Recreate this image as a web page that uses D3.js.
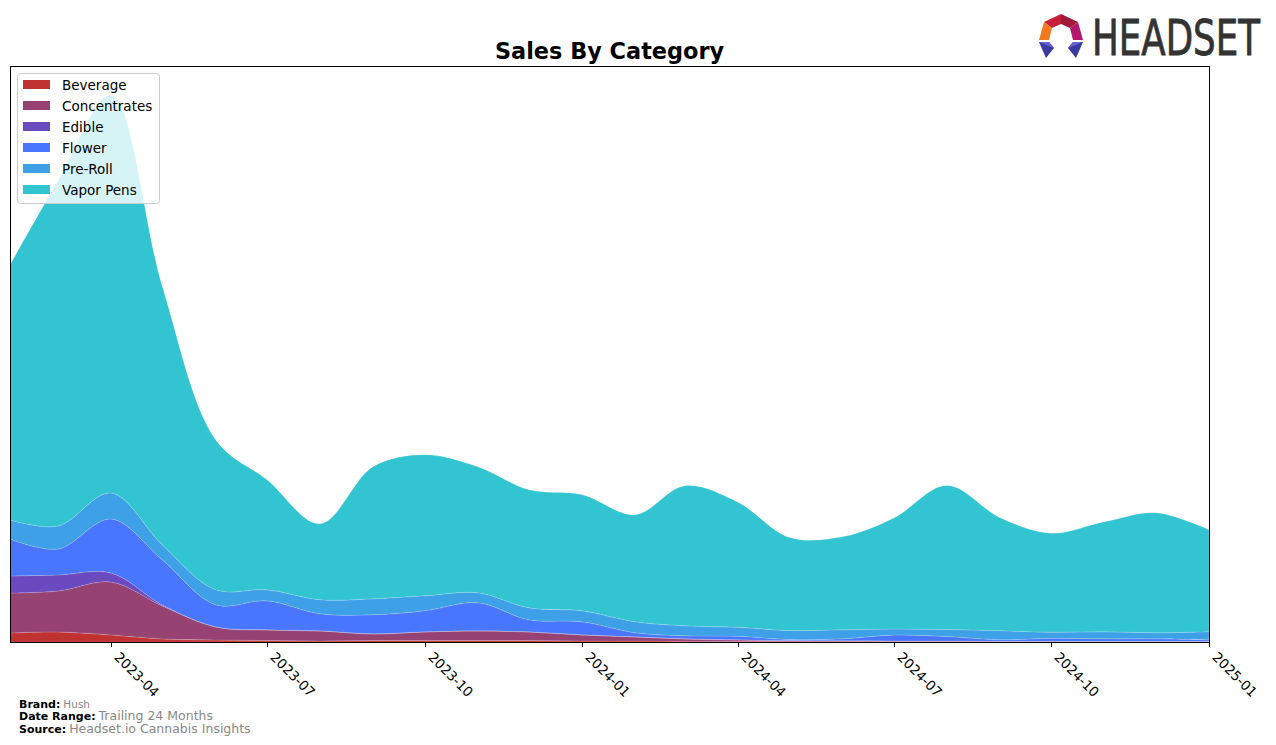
<!DOCTYPE html>
<html><head><meta charset="utf-8">
<script src="https://cdn.jsdelivr.net/npm/d3@7"></script>
<style>body{margin:0;background:#fff;} svg{display:block;font-family:"DejaVu Sans",sans-serif;}</style>
</head><body>
<svg id="chart" width="1276" height="745"></svg>
<script>
const months = ["2023-02","2023-03","2023-04","2023-05","2023-06","2023-07","2023-08","2023-09","2023-10","2023-11","2023-12","2024-01","2024-02","2024-03","2024-04","2024-05","2024-06","2024-07","2024-08","2024-09","2024-10","2024-11","2024-12","2025-01"];
const categories = ["Beverage","Concentrates","Edible","Flower","Pre-Roll","Vapor Pens"];
const beverage     = [9,10,7,3,2,1.5,1,1.5,1.5,1.5,1.5,1,1,0.8,0.5,0.3,0.3,0.3,0.3,0.2,0.2,0.2,0.2,0.2];
const concentrates = [40,41,53,33,13,10.5,10,6.5,8.5,9.5,8.5,6,4,2.2,1.5,1,0.7,0.5,0.5,0.4,0.3,0.3,0.3,0.3];
const edible       = [17,16,9,1,0.3,0.2,0.2,0.2,0.2,0.2,0.2,0.2,0.2,0.2,0.2,0.2,0.2,0.2,0.2,0.2,0.2,0.2,0.2,0.2];
const flower       = [37,26,54,45,22,29,17,19,21,28,12,13,4,3,3.5,1,2,6,4.5,1.5,3,2.5,2.5,1.5];
const preRoll      = [19,23,26,15,15,11,14,16,15,10,12,11,11,10,9,9,9,6,7,9,6,7,6,8];
const vaporPens    = [255,345,398,258,150,110,76,132,141,126,118,116,107,140,125,93,93,111,144,113,99,110,120,102];
const tickLabels = ["2023-04","2023-07","2023-10","2024-01","2024-04","2024-07","2024-10","2025-01"];
const colors = ["#c03232","#964374","#6a4abe","#4876ff","#3ea0e6","#33c4d2"];
const yMax = 576;

const series = [beverage, concentrates, edible, flower, preRoll, vaporPens];
const parse = d3.timeParse("%Y-%m");
const rows = months.map((m,i)=>{ const r={date:parse(m)}; categories.forEach((c,j)=>r[c]=series[j][i]); return r; });

const svg = d3.select("#chart");
const L=10, R=1209, T=66, B=642;
const x = d3.scaleTime().domain([parse(months[0]), parse(months[months.length-1])]).range([L,R]);
const y = d3.scaleLinear().domain([0,yMax]).range([B,T]);

const stack = d3.stack().keys(categories)(rows);
const area = d3.area().curve(d3.curveCatmullRom.alpha(0.5))
  .x(d=>x(d.data.date)).y0(d=>y(d[0])).y1(d=>y(d[1]));

svg.append("clipPath").attr("id","clip").append("rect").attr("x",L).attr("y",T).attr("width",R-L).attr("height",B-T);
const g = svg.append("g").attr("clip-path","url(#clip)");
g.selectAll("path.layer").data(stack).join("path").attr("class","layer")
  .attr("d",area).attr("fill",(d,i)=>colors[i])
  .attr("stroke","rgba(255,255,255,0.25)").attr("stroke-width",0.6);

// frame
svg.append("rect").attr("x",L+0.5).attr("y",T+0.5).attr("width",R-L).attr("height",B-T)
  .attr("fill","none").attr("stroke","#000").attr("stroke-width",1);

// x axis
const tickDates = tickLabels.map(parse);
const ax = svg.append("g");
tickDates.forEach((d,i)=>{
  const tx = Math.round(x(d))+0.5;
  ax.append("line").attr("x1",tx).attr("x2",tx).attr("y1",B+1).attr("y2",B+5).attr("stroke","#000");
  ax.append("text").attr("transform",`translate(${tx+2},${B+16}) rotate(45)`)
    .attr("font-size",13.5).attr("fill","#000").text(tickLabels[i]);
});

// title
svg.append("text").attr("x",(L+R)/2).attr("y",59).attr("text-anchor","middle")
  .attr("font-size",22.4).attr("font-weight","bold").text("Sales By Category");

// legend
const lg = svg.append("g");
lg.append("rect").attr("x",17.5).attr("y",73.5).attr("width",142).attr("height",130).attr("rx",3)
  .attr("fill","rgba(255,255,255,0.8)").attr("stroke","#ccc");
categories.forEach((c,i)=>{
  const cy = 85 + i*21;
  lg.append("rect").attr("x",23).attr("y",cy-5).attr("width",27).attr("height",9).attr("fill",colors[i]);
  lg.append("text").attr("x",62).attr("y",cy+5).attr("font-size",13.5).text(c);
});

// footer
const ft = svg.append("g");
const foot = [["Brand:","Hush",10.5,708],["Date Range:","Trailing 24 Months",12.5,720],["Source:","Headset.io Cannabis Insights",12.5,733]];
foot.forEach(f=>{
  const t = ft.append("text").attr("x",19).attr("y",f[3]);
  t.append("tspan").attr("font-weight","bold").attr("font-size",11).text(f[0]);
  t.append("tspan").attr("dx",3).attr("fill","#888").attr("font-size",f[2]).text(f[1]);
});

// logo
const lo = svg.append("g");
lo.append("polygon").attr("points","1044,22 1061,14 1061,24 1052,28").attr("fill","#c8203c");
lo.append("polygon").attr("points","1061,14 1078,22 1070,28 1061,24").attr("fill","#a0183a");
lo.append("polygon").attr("points","1044,22 1052,28 1049,40 1039,40").attr("fill","#f07a20");
lo.append("polygon").attr("points","1078,22 1083,40 1073,40 1070,28").attr("fill","#b4186e");
lo.append("polygon").attr("points","1039,42 1049,42 1054,48 1046,58").attr("fill","#3a3aa0");
lo.append("polygon").attr("points","1073,42 1083,42 1076,58 1068,48").attr("fill","#3a3aa0");
lo.append("polygon").attr("points","1039,42 1049,42 1054,48").attr("fill","#6a60d0");
lo.append("polygon").attr("points","1073,42 1083,42 1068,48").attr("fill","#6a60d0");
const logoText = lo.append("text").attr("x",0).attr("y",0).attr("font-size",50).attr("fill","#333")
  .attr("stroke","#333").attr("stroke-width",0.8)
  .attr("font-family","'DejaVu Sans Condensed','DejaVu Sans',sans-serif").text("HEADSET");
const w = logoText.node().getComputedTextLength();
logoText.attr("transform",`translate(1092,55) scale(${168/w},1)`);
</script>
</body></html>
